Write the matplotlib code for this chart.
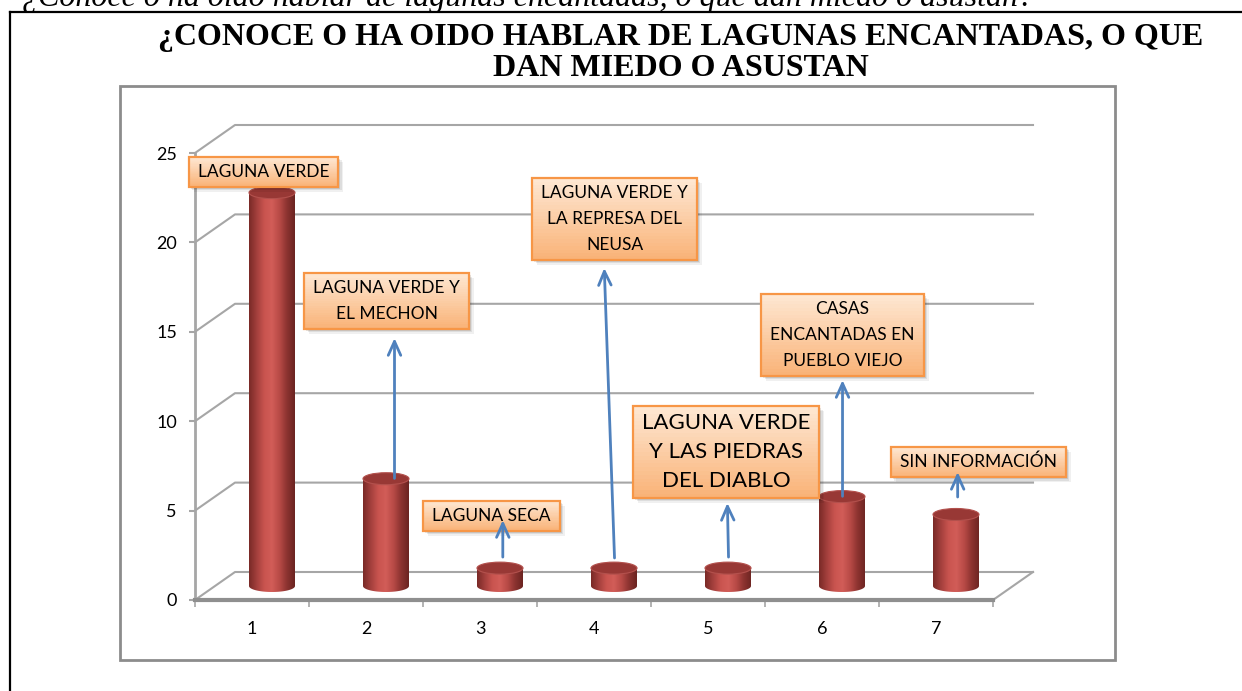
import numpy as np
import matplotlib
matplotlib.use("Agg")
import matplotlib.pyplot as plt
from matplotlib.patches import Rectangle, Ellipse, Polygon
from matplotlib.lines import Line2D
from matplotlib.colors import LinearSegmentedColormap, to_rgb

# --- data ---
CATEGORIES = [1, 2, 3, 4, 5, 6, 7]
VALUES = [22, 6, 1, 1, 1, 5, 4]
LABELS = ["LAGUNA VERDE",
          "LAGUNA VERDE Y\nEL MECHON",
          "LAGUNA SECA",
          "LAGUNA VERDE Y\nLA REPRESA DEL\nNEUSA",
          "LAGUNA VERDE\nY LAS PIEDRAS\nDEL DIABLO",
          "CASAS\nENCANTADAS EN\nPUEBLO VIEJO",
          "SIN INFORMACIÓN"]
YTICKS = [0, 5, 10, 15, 20, 25]
TITLE_1 = "¿CONOCE O HA OIDO HABLAR DE LAGUNAS ENCANTADAS, O QUE"
TITLE_2 = "DAN MIEDO O ASUSTAN"
QUESTION = "¿Conoce o ha oido hablar de lagunas encantadas, o que dan miedo o asustan?"

# --- layout of callouts (data coords) ---
LABEL_POS = [(1.10, 23.95), (2.18, 16.72), (3.10, 4.70), (4.18, 21.31),
             (5.16, 8.28), (6.18, 14.82), (7.37, 7.72)]
LABEL_SIZE = [12.5, 12.5, 12.5, 12.5, 16, 12.5, 12.5]
LABEL_SPACING = [1.75, 1.75, 1.75, 1.75, 1.55, 1.75, 1.75]
ARROWS = [None,
          ((2.25, 6.8), (2.25, 14.65)),
          ((3.20, 2.4), (3.20, 4.47)),
          ((4.18, 2.35), (4.09, 18.57)),
          ((5.18, 2.4), (5.17, 5.43)),
          ((6.18, 5.8), (6.18, 12.3)),
          ((7.19, 5.76), (7.19, 7.16))]

W, H = 1242, 691
GRID = "#a6a6a6"
SANS = ["Lato", "DejaVu Sans"]
SERIF = ["Liberation Serif", "DejaVu Serif"]


def fx(px):
    return px / W


def fy(py):
    return 1 - py / H


fig = plt.figure(figsize=(W / 100, H / 100), dpi=100)

# page-like frame lines and outer text
fig.add_artist(Line2D([fx(10), 1.0], [fy(12), fy(12)], color="black", lw=1.6))
fig.add_artist(Line2D([fx(10), fx(10)], [fy(12), 0.0], color="black", lw=1.6))
fig.text(fx(22), fy(6), QUESTION, family=SERIF, style="italic", fontsize=23,
         va="baseline", ha="left")
fig.text(fx(681), fy(37), TITLE_1, family=SERIF, weight="bold", fontsize=23,
         ha="center", va="center")
fig.text(fx(681), fy(68), TITLE_2, family=SERIF, weight="bold", fontsize=23,
         ha="center", va="center")
fig.add_artist(Rectangle((fx(120), fy(660)), fx(1115) - fx(120), fy(86) - fy(660),
                         fill=False, ec="#8c8c8c", lw=2, transform=fig.transFigure))

ax = fig.add_axes([fx(195), fy(600), (993 - 195) / W, (600 - 153) / H])
ax.set_facecolor("none")
ppx = 798 / 7.0
ppy = 447 / 25.0
DX, DY = 40 / ppx, 28 / ppy      # back-wall offset
MX, MY = 20 / ppx, 14 / ppy      # bar row offset

# walls and floor
for y in YTICKS:
    ax.plot([0.5, 0.5 + DX, 7.5 + DX], [y, y + DY, y + DY], color=GRID, lw=1.5,
            clip_on=False, zorder=1)
ax.plot([7.5, 7.5 + DX], [0, DY], color=GRID, lw=1.5, clip_on=False, zorder=1)

# cylinders
cmap = LinearSegmentedColormap.from_list(
    "cyl", ["#7a2a27", "#a4403d", "#c9544f", "#d25d58", "#b84a46", "#8c3330", "#6c2421"])
a = 23 / ppx
b = 6 / ppy
for x, v in zip(CATEGORIES, VALUES):
    cx, y0 = x + MX, MY
    t = np.linspace(np.pi, 2 * np.pi, 50)
    verts = list(zip(cx + a * np.cos(t), y0 + b * np.sin(t))) + [(cx + a, y0 + v), (cx - a, y0 + v)]
    body = Polygon(verts, closed=True, fc="none", ec="none", zorder=2)
    ax.add_patch(body)
    im = ax.imshow(np.linspace(0, 1, 64)[None, :], cmap=cmap, aspect="auto",
                   extent=(cx - a, cx + a, y0 - b, y0 + v), zorder=2, interpolation="bilinear")
    im.set_clip_path(body)
    ax.add_patch(Ellipse((cx, y0 + v), 2 * a, 2 * b, fc="#983835", ec="#b3514d", lw=0.8, zorder=3))

ax.set_xlim(0.5, 7.5)
ax.set_ylim(0, 25)
for s in ("top", "right"):
    ax.spines[s].set_visible(False)
ax.spines["left"].set_color(GRID)
ax.spines["left"].set_linewidth(2)
ax.spines["bottom"].set_color("#8f8f8f")
ax.spines["bottom"].set_linewidth(3)
ax.set_yticks(YTICKS)
ax.set_yticklabels([str(v) for v in YTICKS], family=SANS, fontsize=13)
ax.set_xticks(CATEGORIES)
ax.set_xticklabels([str(c) for c in CATEGORIES], family=SANS, fontsize=13)
ax.set_xticks(np.arange(0.5, 8.0, 1.0), minor=True)
ax.tick_params(axis="y", length=4, width=1.5, color=GRID, pad=9)
ax.tick_params(axis="x", which="major", length=0, pad=15)
ax.tick_params(axis="x", which="minor", length=5, width=1.2, color=GRID)

# callout texts
texts = []
for lab, (lx, ly), fs, ls in zip(LABELS, LABEL_POS, LABEL_SIZE, LABEL_SPACING):
    texts.append(ax.text(lx, ly, lab, family=SANS, fontsize=fs, ha="center", va="center",
                         multialignment="center", linespacing=ls, zorder=6, clip_on=False))

fig.canvas.draw()
rend = fig.canvas.get_renderer()
top_c = np.array(to_rgb("#fee8d4"))
bot_c = np.array(to_rgb("#f9b276"))
for t in texts:
    bb = t.get_window_extent(rend)
    x0, x1 = bb.x0 - 9, bb.x1 + 9
    y0, y1 = bb.y0 - 7, bb.y1 + 7
    # shadow
    for k, al in enumerate([0.10, 0.08, 0.06]):
        o = 2 + 1.5 * k
        ax.add_patch(Rectangle(((x0 + o) / W, (y0 - o) / H), (x1 - x0) / W, (y1 - y0) / H,
                               transform=fig.transFigure, fc="black", ec="none", alpha=al,
                               zorder=4, clip_on=False))
    n = 24
    hs = (y1 - y0) / n
    for i in range(n):
        f = (i + 0.5) / n
        col = bot_c * (1 - f) + top_c * f
        ax.add_patch(Rectangle((x0 / W, (y0 + i * hs) / H), (x1 - x0) / W, hs / H * 1.05,
                               transform=fig.transFigure, fc=col, ec="none", zorder=4.5,
                               clip_on=False))
    ax.add_patch(Rectangle((x0 / W, y0 / H), (x1 - x0) / W, (y1 - y0) / H,
                           transform=fig.transFigure, fill=False, ec="#f79646", lw=1.6,
                           zorder=5, clip_on=False))

# arrows
for arr in ARROWS:
    if arr is None:
        continue
    tail, tip = arr
    ax.annotate("", xy=tip, xytext=tail, zorder=7,
                arrowprops=dict(arrowstyle="->,head_length=1.0,head_width=0.45",
                                color="#4f81bd", lw=2, shrinkA=0, shrinkB=0))

fig.savefig("out.png", dpi=100)
